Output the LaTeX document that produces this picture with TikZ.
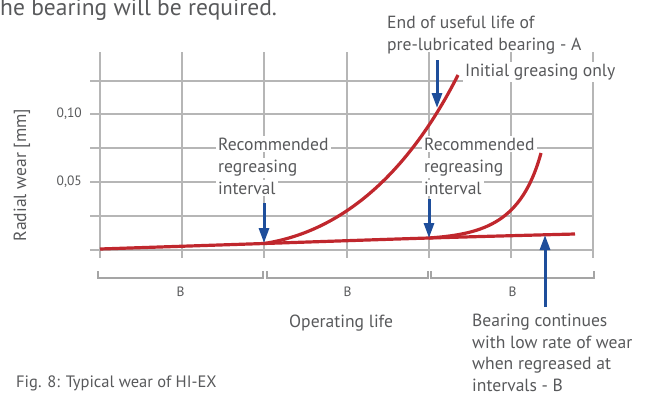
\documentclass[tikz,border=0pt]{standalone}
\usepackage{fontspec}
\setmainfont{PT Sans}
\usetikzlibrary{arrows.meta}

\definecolor{labelgray}{RGB}{88,89,91}
\definecolor{gridgray}{RGB}{182,182,182}
\definecolor{bracketgray}{RGB}{165,165,165}
\definecolor{wearred}{RGB}{192,39,45}
\definecolor{markblue}{RGB}{30,78,155}

\begin{document}
\begin{tikzpicture}[
    x=1pt, y=-1pt,
    font=\fontsize{17.6}{22}\selectfont,
    every node/.style={text=labelgray},
    gridline/.style={gridgray, line width=1.2pt},
    wearline/.style={wearred, line width=3.2pt},
    bluearrow/.style={markblue, line width=3pt, -{Triangle[length=15pt,width=10pt]}},
    bracketline/.style={bracketgray, line width=2pt},
    textlabel/.style={anchor=base west, inner sep=2pt},
    masklabel/.style={textlabel, fill=white},
    ticklabel/.style={font=\fontsize{13.5}{16}\selectfont},
]
\useasboundingbox (0,0) rectangle (652,394);

% Cut-off line of the text above
\node[anchor=base west, inner sep=0, font=\fontsize{23.5}{28}\selectfont] (cutline) at (0,15) {he bearing will be required.};

% Grid
\foreach \gx in {100,182,264,347,429,511,593}
    \draw[gridline] (\gx,52) -- (\gx,258);
\foreach \gy in {81,114,148,182,216,250}
    \draw[gridline] (90,\gy) -- (593,\gy);

% Axis labels
\node[ticklabel, anchor=east, inner sep=0] (tick10) at (82,114) {0,10};
\node[ticklabel, anchor=east, inner sep=0] (tick05) at (82,182) {0,05};
\node[rotate=90] (ylabel) at (22,175) {Radial wear [mm]};

% Intervals B
\foreach \bl/\br [count=\bi] in {98/263, 267/428, 431/594} {
    \draw[bracketline] (\bl,271) -- (\bl,278) -- (\br,278) -- (\br,271);
    \node[ticklabel] (interval\bi) at ({(\bl+\br)/2},292) {B};
}
\node[textlabel] (oplife) at (287,327) {Operating life};

% Labels on the grid
\node[textlabel] (endlife1) at (385,28) {End of useful life of};
\node[textlabel] (endlife2) at (385,50) {pre-lubricated bearing - A};
\node[masklabel] (initial) at (463,76) {Initial greasing only};
\node[masklabel] (regrA1) at (216,150) {Recommended};
\node[masklabel] (regrA2) at (216,172) {regreasing};
\node[masklabel] (regrA3) at (216,194) {interval};
\node[masklabel] (regrB1) at (422,150) {Recommended};
\node[masklabel] (regrB2) at (422,172) {regreasing};
\node[masklabel] (regrB3) at (422,194) {interval};

% Wear curves
\draw[wearline] plot[smooth] coordinates {(100,249) (264,243.5) (429,238) (575,234)};
\draw[wearline] (264,243.5) .. controls (345,231) and (410,170) .. (458,75);
\draw[wearline] (429,238) .. controls (485,234) and (522,222) .. (541,153);

% Arrows
\coordinate (aTop) at (437,60);
\coordinate (aTip) at (437,108);
\coordinate (r1Top) at (264,203);
\coordinate (r1Tip) at (264,243);
\coordinate (r2Top) at (429,199);
\coordinate (r2Tip) at (429,238);
\coordinate (bFoot) at (545,307);
\coordinate (bTip) at (545,235);
\draw[bluearrow] (aTop) -- (aTip);
\draw[bluearrow] (r1Top) -- (r1Tip);
\draw[bluearrow] (r2Top) -- (r2Tip);
\draw[bluearrow] (bFoot) -- (bTip);

% Bottom texts
\foreach \ln [count=\li] in {Bearing continues, with low rate of wear, when regreased at, intervals - B}
    \node[textlabel] (lowwear\li) at (470,{305+21.5*\li}) {\ln};
\node[anchor=base west, inner sep=0, font=\fontsize{16.5}{20}\selectfont] (caption) at (16,387) {Fig. 8: Typical wear of HI-EX};

\end{tikzpicture}
\end{document}
